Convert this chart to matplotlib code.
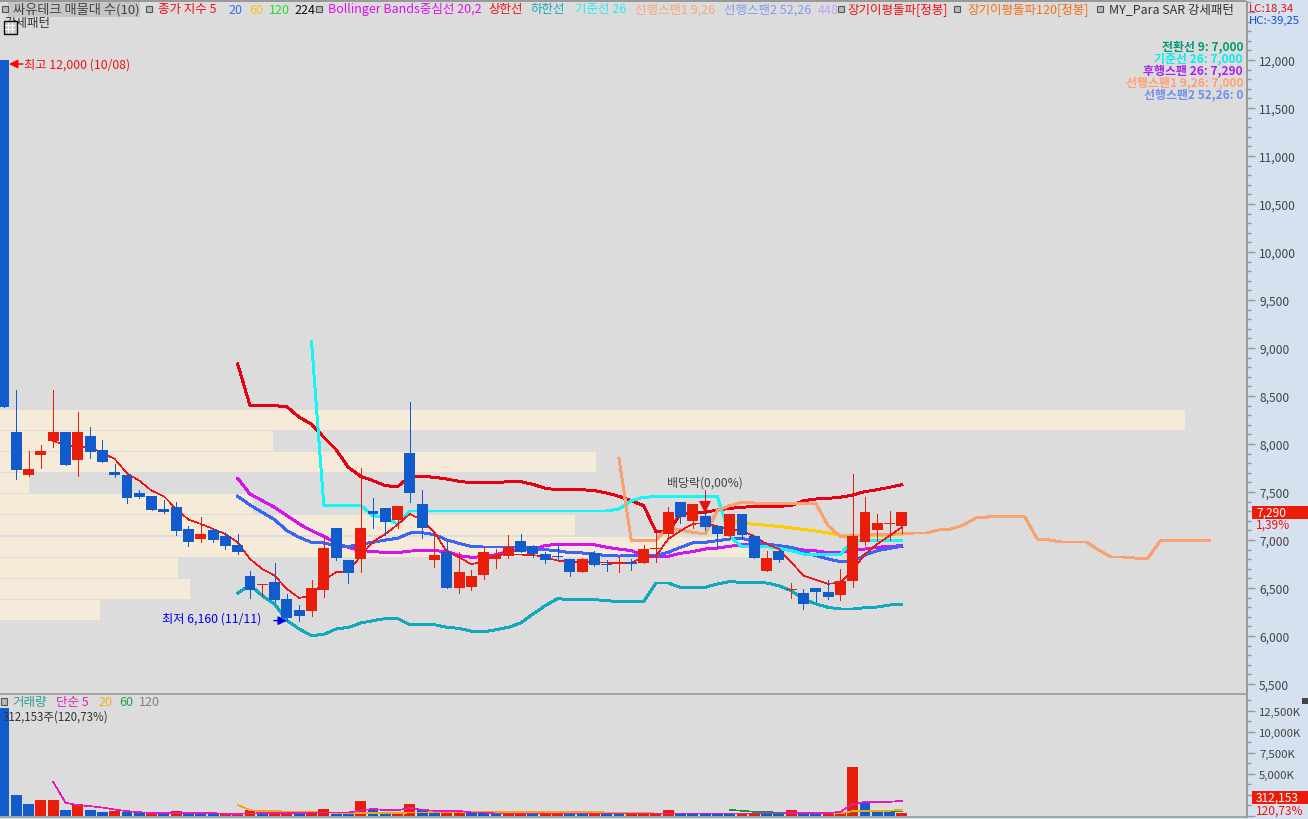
import matplotlib
matplotlib.use("Agg")
import matplotlib.pyplot as plt
from matplotlib.patches import Rectangle
from matplotlib.ticker import FuncFormatter, MultipleLocator

plt.rcParams['font.family'] = ['Noto Sans CJK KR', 'DejaVu Sans']

# ---------- data ----------
opens = [12000,8130,7680,7890,8030,8130,7830,8080,7940,7710,7680,7490,7460,7320,7340,7110,7010,7100,7040,6950,
         6620,6530,6560,6390,6270,6260,6480,7120,6790,6800,7300,7330,7210,7910,7370,6790,6870,6500,6510,6640,
         6800,6830,6990,6940,6850,6830,6800,6670,6860,6750,6750,6770,6760,6910,7060,7400,7200,7250,7150,7040,
         7270,7040,6680,6890,6480,6450,6500,6460,6430,6570,6980,7100,7170,7150]
highs = [12000,8560,7930,7990,8560,8130,8330,8180,8040,7790,7680,7520,7460,7420,7400,7150,7240,7120,7080,7060,
         6680,6540,6760,6440,6320,6580,7040,7120,6790,7750,7440,7330,7350,8440,7520,7060,6980,6880,6690,6930,
         6910,7050,7060,6950,6880,6950,6800,6810,6890,6790,6840,6800,6950,7080,7340,7400,7380,7520,7150,7270,
         7270,7040,6890,6890,6550,6490,6500,6580,6700,7690,7450,7270,7300,7290]
lows = [8385,7640,7670,7750,7970,7780,7670,7850,7810,7660,7390,7440,7310,7280,7050,6940,6980,6980,6910,6850,
        6400,6420,6350,6160,6160,6210,6410,6790,6550,6670,7120,7050,7120,7400,7020,6720,6500,6450,6480,6590,
        6710,6810,6870,6820,6760,6790,6620,6670,6730,6680,6670,6690,6760,6770,7030,7180,7120,7100,6910,7010,
        7010,6810,6680,6770,6400,6280,6350,6390,6370,6510,6950,6990,7000,7070]
closes = [8385,7730,7740,7930,8130,7780,8120,7920,7810,7680,7440,7450,7310,7290,7090,6980,7060,7000,6940,6870,
          6480,6540,6380,6190,6210,6500,6920,6810,6660,7130,7270,7190,7350,7490,7130,6840,6500,6670,6620,6870,
          6840,6930,6870,6850,6790,6820,6670,6800,6740,6740,6750,6750,6910,6920,7290,7240,7380,7140,7060,7270,
          7050,6810,6810,6790,6490,6330,6460,6410,6570,7040,7290,7180,7180,7290]

ma5_start = 4
ma5 = [8030,7990,7970,7965,7906,7844,7694,7618,7514,7455,7323,7212,7167,7115,7062,6976,6802,6698,6629,6490,
       6396,6420,6576,6667,6667,6837,6983,7062,7160,7271,7208,7080,6879,6820,6747,6781,6840,6854,6847,6844,
       6823,6785,6774,6771,6771,6764,6757,6764,6820,6830,7011,7097,7167,7177,7142,7115,7097,7038,6958,6906,
       6768,6629,6587,6542,6559,6681,6854,6958,7045,7132]

bb_start = 19
bb_upper = [8833,8399,8399,8399,8389,8278,8208,8069,7941,7757,7663,7618,7566,7556,7663,7663,7653,7635,7611,7597,
            7597,7597,7608,7608,7580,7538,7524,7524,7524,7514,7490,7455,7410,7358,7087,7087,7271,7281,7288,7313,
            7330,7340,7351,7351,7351,7358,7410,7427,7434,7445,7469,7504,7524,7549,7576]
bb_lower = [6445,6531,6420,6333,6160,6073,6004,6017,6073,6090,6135,6160,6181,6181,6118,6118,6118,6090,6080,6049,
            6042,6066,6090,6135,6229,6316,6389,6379,6379,6379,6368,6358,6358,6358,6552,6552,6507,6500,6507,6542,
            6566,6559,6556,6552,6524,6472,6386,6334,6299,6281,6281,6295,6302,6323,6327]
bb_mid = [7642,7479,7410,7340,7253,7167,7097,7038,6969,6924,6889,6882,6868,6868,6885,6889,6889,6879,6837,6820,
          6826,6847,6879,6896,6906,6941,6958,6955,6951,6951,6924,6906,6889,6837,6827,6830,6861,6879,6906,6917,
          6934,6952,6955,6952,6934,6917,6896,6886,6868,6868,6896,6906,6924,6934,6941]
ma20 = [7455,7365,7288,7212,7097,7028,6976,6969,6941,6931,6958,6976,7000,7017,7073,7076,7056,7000,6965,6931,
        6927,6927,6927,6927,6906,6899,6889,6868,6865,6854,6837,6833,6837,6830,6837,6872,6924,6969,6976,6993,
        7011,7018,6983,6958,6941,6924,6872,6837,6802,6774,6774,6844,6889,6913,6934]

base_start = 25
base_line = [9070,7360,7360,7360,7360,7253,7236,7167,7302,7302,7302,7302,7302,7302,7302,7302,7302,7302,7302,7302,
             7302,7302,7302,7302,7302,7323,7410,7445,7452,7452,7452,7452,7452,7452,7038,6931,6931,6931,6913,6889,
             6854,6844,6847,6847,7003,6993,6993,6993,6993]

span_start = 50
span1 = [7851,6993,6993,6993,7132,7104,7080,7063,7306,7358,7392,7385,7382,7382,7382,7382,7382,7149,7038,7045,
         7052,7055,7059,7066,7073,7073,7104,7115,7156,7229,7240,7240,7240,7240,7010,7000,6979,6979,6979,6896,
         6823,6823,6812,6812,6990,6990,6990,6990,6990]

ma60_start = 59
ma60 = [7201,7177,7163,7153,7142,7125,7111,7094,7073,7049,7045,7045,7045,7052,7055]

vol_k = [12800,2500,1310,1790,1790,600,1310,600,360,480,360,400,320,240,480,240,240,240,200,200,
         600,240,280,360,280,280,830,240,240,1670,830,360,360,1310,600,360,360,240,240,240,
         160,160,160,160,160,160,160,160,240,160,160,240,160,160,600,120,120,120,120,120,
         120,120,120,120,710,120,120,120,240,5830,1430,360,360,312]
vol_side = "bbbrrbrbbrbbrbrbbbrrrbrrbrrbbrbbrrbbrrbbbrrbrrbbrbbrrrrbbbbbrrbbrbbrrrbbbr"

vol_ma5_start = 4
vol_ma5 = [4000,1510,1230,1110,950,710,520,400,280,280,320,280,280,280,200,200,240,280,280,280,
           280,360,360,360,360,600,790,630,630,910,670,560,560,560,360,360,240,240,240,240,
           240,240,240,240,240,240,240,240,240,240,240,240,240,240,240,240,240,240,240,240,
           280,280,280,280,440,1350,1630,1630,1630,1750]
vol_ma20_start = 19
vol_ma20 = [1270,630,520,520,480,440,400,360,320,320,320,320,320,320,340,360,400,440,440,440,
            440,440,440,440,440,440,440,440,440,440,360,360,360,360,240,240,240,240,240,240,
            240,240,240,240,240,240,240,240,240,240,520,560,560,560,710]
vol_ma60_start = 59
vol_ma60 = [670,560,440,440,320,320,320,320,320,320,440,480,480,480,480]

profile_low = [8146,7927,7708,7490,7271,7052,6823,6604,6385,6167]
profile_len = [96.0,21.9,48.1,2.0,20.25,46.4,60.8,14.15,15.1,7.8]

band_items = [
    (158, "종가 지수 5", "#f01010"), (228, "20", "#3a6ee8"), (249, "60", "#f5c518"), (269, "120", "#22dd22"),
    (294, "224", "#111111"), (328, "Bollinger Bands중심선 20,2", "#dd11ee"), (488, "상한선", "#ee1111"),
    (530, "하한선", "#11aabb"), (575, "기준선 26", "#22eeee"), (635, "선행스팬1 9,26", "#f7a878"),
    (724, "선행스팬2 52,26", "#7f9cf0"), (818, "448", "#c8a0f8"), (847, "장기이평돌파[정봉]", "#f01010"),
    (967, "장기이평돌파120[정봉]", "#f57010"), (1109, "MY_Para SAR 강세패턴", "#333333"),
]
ichimoku_items = [
    ("전환선 9: 7,000", "#009977"), ("기준선 26: 7,000", "#00f0f0"), ("후행스팬 26: 7,290", "#aa22ee"),
    ("선행스팬1 9,26: 7,000", "#ffa070"), ("선행스팬2 52,26: 0", "#6f8fee"),
]
vol_items = [(12, "거래량", "#2a9d9d"), (56, "단순 5", "#e020c0"), (98, "20", "#f0b020"),
             (119, "60", "#20a050"), (139, "120", "#808080")]

# ---------- styles ----------
W, H = 1308, 820
BG = "#dcdcdc"; PANEL = "#d6e1f0"; RED = "#ea1c0a"; BLUE = "#115bcc"; GRID = "#999999"; TXT = "#444444"
FS = 8.6
FS_LEG = 9.0

fig = plt.figure(figsize=(W/100, H/100), dpi=100, facecolor=PANEL)
x_l = (0-4)/12.3; x_r = (1246.5-4)/12.3
ax = fig.add_axes([0, (H-694)/H, 1246.5/W, (694-3)/H], facecolor=BG)
vx = fig.add_axes([0, (H-818)/H, 1246.5/W, (818-695)/H], facecolor=BG)

def px_rect(x0, y0, x1, y1, **kw):
    r = Rectangle((x0/W, 1-y1/H), (x1-x0)/W, (y1-y0)/H, transform=fig.transFigure, **kw)
    fig.add_artist(r)
    return r

def px_text(x, y, s, color=TXT, ha='left', size=FS, **kw):
    return fig.text(x/W, 1-y/H, s, color=color, ha=ha, va='center', fontsize=size, zorder=20, **kw)

# main pane
n = len(opens)
xs = list(range(n))
ax.barh(profile_low, [v - x_l for v in profile_len], height=208, left=x_l, align='edge',
        color="#f6ead9", linewidth=0, zorder=1)

def line(a, start, vals, color, lw=1.4, z=3):
    a.plot(range(start, start+len(vals)), vals, color=color, lw=lw, zorder=z, antialiased=False,
           solid_joinstyle='round')

line(ax, ma5_start, ma5, "#f01414", lw=0.4, z=4)
line(ax, bb_start, bb_upper, "#e60012")
line(ax, bb_start, bb_lower, "#12a8bd")
line(ax, bb_start, bb_mid, "#d414ee")
line(ax, bb_start, ma20, "#3a66f5")
line(ax, ma60_start, ma60, "#ffcc00")
line(ax, base_start, base_line, "#14f5f5")
line(ax, span_start, span1, "#f7a270")

for i in xs:
    up = closes[i] >= opens[i]
    c = RED if up else BLUE
    ax.vlines(i, lows[i], highs[i], color=c, lw=0.65, zorder=5, antialiased=False)
    top, bot = max(opens[i], closes[i]), min(opens[i], closes[i])
    ax.bar(i, max(top-bot, 11), bottom=bot, width=0.89, color=c, linewidth=0, zorder=6, antialiased=False)

ax.set_xlim(x_l, x_r)
ax.set_ylim(12000-(694-61)/0.096, 12000+58/0.096)
ax.set_xticks([])
ax.yaxis.tick_right()
ax.yaxis.set_major_locator(MultipleLocator(500))
ax.yaxis.set_minor_locator(MultipleLocator(100))
ax.yaxis.set_major_formatter(FuncFormatter(lambda v, _: f"{v:,.0f}" if v <= 12000 else ""))
ax.tick_params(axis='y', which='major', length=6, width=1, color=GRID, labelcolor=TXT, labelsize=FS, pad=3)
ax.tick_params(axis='y', which='minor', length=3, width=1, color=GRID)

# volume pane
cols = [RED if s == 'r' else BLUE for s in vol_side]
vx.bar(xs, vol_k, width=0.89, color=cols, linewidth=0, zorder=2, antialiased=False)
line(vx, vol_ma60_start, vol_ma60, "#109a40", lw=0.45, z=3)
line(vx, vol_ma20_start, vol_ma20, "#f0a810", lw=0.45, z=4)
line(vx, vol_ma5_start, vol_ma5, "#e818c0", lw=0.45, z=5)
vx.set_xlim(x_l, x_r)
vx.set_ylim(-1.5/8.4*1000, (816.5-695)/8.4*1000)
vx.set_xticks([])
vx.yaxis.tick_right()
vx.yaxis.set_major_locator(MultipleLocator(2500))
vx.yaxis.set_minor_locator(MultipleLocator(1250))
vx.yaxis.set_major_formatter(FuncFormatter(lambda v, _: f"{v:,.0f}K" if v > 0 else ""))
vx.tick_params(axis='y', which='major', length=6, width=1, color=GRID, labelcolor=TXT, labelsize=8.2, pad=3)
vx.tick_params(axis='y', which='minor', length=3, width=1, color=GRID)

for a in (ax, vx):
    for s in a.spines.values():
        s.set_visible(False)
    a.spines['right'].set_visible(True)
    a.spines['right'].set_color(GRID)
    a.spines['right'].set_linewidth(1.4)
vx.spines['top'].set_visible(True); vx.spines['top'].set_color(GRID); vx.spines['top'].set_linewidth(1.2)
vx.spines['bottom'].set_visible(True); vx.spines['bottom'].set_color(GRID); vx.spines['bottom'].set_linewidth(1.2)

# chrome at the top
px_rect(0, 0, 1246, 18, color=BG, lw=0, zorder=1)
px_rect(0, 1, 1246, 2.5, color="#999999", lw=0, zorder=2)
px_rect(8, 3, 140, 18, color="#c6c6c6", lw=0, zorder=3)
for ix in (5, 149, 319, 841, 957, 1100):
    px_rect(ix-3, 7, ix+3, 13, facecolor="#b8b8b8", edgecolor="#555555", lw=0.8, zorder=4)
px_text(13, 10, "싸유테크 매물대 수(10)", "#444444", size=9.5)
for x, s, c in band_items:
    px_text(x, 10, s, c, size=FS_LEG)
px_text(4, 23, "강세패턴", "#333333", size=FS_LEG)
px_rect(3.5, 22, 16.5, 35, facecolor="#cccccc", edgecolor="#111111", lw=1.0, zorder=21)
for yy in (26, 30):
    px_rect(5, yy, 15, yy+0.8, color="white", lw=0, zorder=22)
for xx in (8, 12):
    px_rect(xx, 24, xx+0.8, 34, color="white", lw=0, zorder=22)

for k, (s, c) in enumerate(ichimoku_items):
    px_text(1243, 47+12*k, s, c, ha='right', fontweight='bold', size=8.6)

px_text(1249, 9, "LC:18,34", "#e01010", size=8.2)
px_text(1249, 21, "HC:-39,25", "#1050d0", size=8.2)

# annotations
ax.annotate('', xy=(9/W, 1-65/H), xytext=(23/W, 1-65/H), xycoords='figure fraction', textcoords='figure fraction',
            arrowprops=dict(arrowstyle='-|>', color='red', lw=1, shrinkA=0, shrinkB=0, mutation_scale=13), zorder=8)
px_text(24, 65, "최고 12,000 (10/08)", "#ee1111", size=8.8)
ax.annotate('', xy=(23, 6160), xytext=(-13, 0), textcoords='offset pixels',
            arrowprops=dict(arrowstyle='-|>', color='#0000ee', lw=1, shrinkA=0, shrinkB=0, mutation_scale=13), zorder=8)
px_text(162, 619, "최저 6,160 (11/11)", "#0000ee", size=8.8)
px_text(667, 483, "배당락(0,00%)", "#444444")
ax.vlines(57, 7380, 7521, color="#e81010", lw=0.65, zorder=8, antialiased=False)
ax.plot([57], [7345], marker='v', ms=8, color="#e81010", mew=0, zorder=8)

# volume legend
px_rect(0.5, 699, 6.5, 706, facecolor="#b8b8b8", edgecolor="#555555", lw=0.8)
for x, s, c in vol_items:
    px_text(x, 703, s, c, size=FS_LEG)
px_text(3, 717, "312,153주(120,73%)", "#333333", size=8.3)

# last value flags
px_rect(1252, 507, 1308, 520, color=RED, lw=0, zorder=15)
px_text(1256, 513, "7,290", "white")
px_text(1256, 525, "1,39%", "#f01010")
px_rect(1252, 792, 1308, 805, color=RED, lw=0, zorder=15)
px_text(1256, 798, "312,153", "white")
px_text(1256, 811, "120,73%", "#f01010")
px_rect(1302, 699, 1308, 705, color="#444444", lw=0, zorder=15)

fig.savefig("out.png", dpi=100, facecolor=fig.get_facecolor())
